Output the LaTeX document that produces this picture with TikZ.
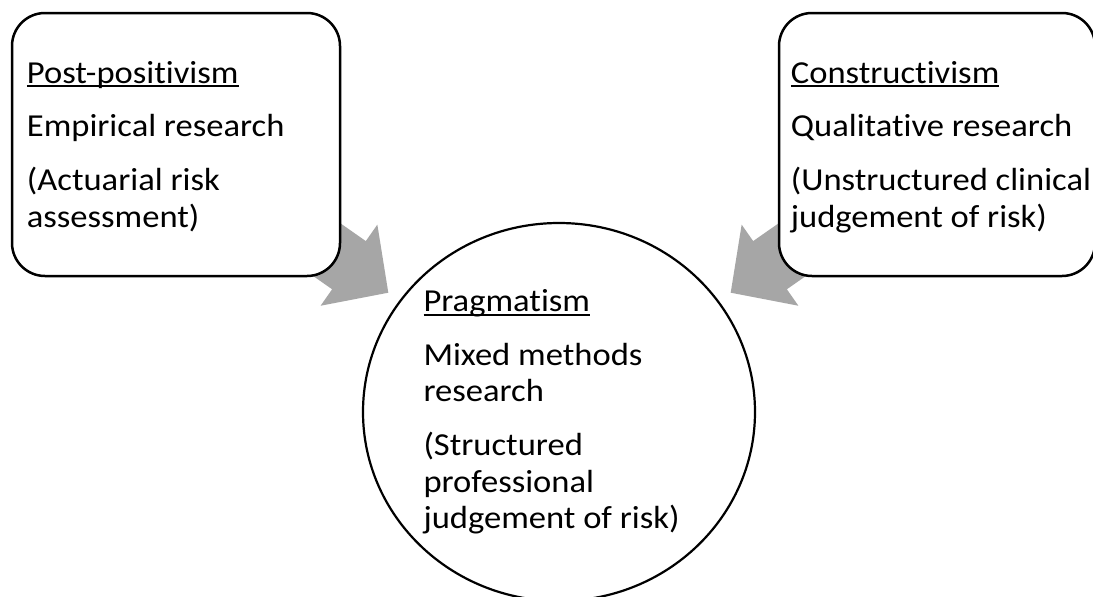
\documentclass[tikz,border=0pt]{standalone}
\usepackage{fontspec}
\setmainfont{Carlito}[Ligatures=NoCommon, FakeStretch=1.08]
\usetikzlibrary{calc,shapes.geometric}
\definecolor{arrowfill}{RGB}{166,166,166}

% underline that runs through the descenders
\newcommand\myul[1]{\setbox0\hbox{#1}\rlap{\rule[-4pt]{\wd0}{2pt}}\box0}

% wide block arrow from #1 (start, hidden under a box) to #2 (tip)
\newcommand\blockarrow[2]{%
  \coordinate (#1-h) at ($(#2)!48pt!(#1)$);
  \fill[arrowfill]
    ($(#1)!29.4pt!90:(#2)$) -- ($(#1-h)!29.4pt!90:(#2)$) --
    ($(#1-h)!49.5pt!90:(#2)$) -- (#2) --
    ($(#1-h)!49.5pt!-90:(#2)$) -- ($(#1-h)!29.4pt!-90:(#2)$) --
    ($(#1)!29.4pt!-90:(#2)$) -- cycle;
}

\tikzset{
  framebox/.style={draw=black, line width=2.5pt, rounded corners=33pt,
    fill=white, inner sep=0pt},
  roundnode/.style={ellipse, draw=black, line width=2.2pt, fill=white,
    inner sep=0pt},
  txt/.style={anchor=base west, inner sep=0pt,
    font=\fontsize{32}{36.7}\selectfont},
}

\begin{document}
\begin{tikzpicture}[x=1pt,y=-1pt]
  \fill[white] (0,0) rectangle (1093,597);
  \useasboundingbox (0,0) rectangle (1093,597);

  % arrow ends
  \coordinate (ls) at (265.4,206.7);
  \coordinate (lt) at (388.3,292.7);
  \coordinate (rs) at (853.6,206.7);
  \coordinate (rt) at (730.7,292.7);
  \blockarrow{ls}{lt}
  \blockarrow{rs}{rt}

  % frames
  \node[framebox, minimum width=328pt, minimum height=263pt] (post) at (176,144.5) {};
  \node[framebox, minimum width=316pt, minimum height=263pt] (cons) at (937,144.5) {};
  \node[roundnode, minimum width=392pt, minimum height=378pt] (prag) at (559,412) {};

  % texts
  \node[txt] (posttxt) at (26.7,83.3) {\begin{tabular}[t]{@{}l@{}}
    \myul{Post-positivism}\\[16.8pt]
    Empirical research\\[16.8pt]
    (Actuarial risk\\
    assessment)
  \end{tabular}};
  \node[txt] (constxt) at (790.7,83.3) {\begin{tabular}[t]{@{}l@{}}
    \myul{Constructivism}\\[16.8pt]
    Qualitative research\\[16.8pt]
    (Unstructured clinical\\
    judgement of risk)
  \end{tabular}};
  \node[txt] (pragtxt) at (423.3,311.7) {\begin{tabular}[t]{@{}l@{}}
    \myul{Pragmatism}\\[16.8pt]
    Mixed methods\\
    research\\[16.8pt]
    (Structured\\
    professional\\
    judgement of risk)
  \end{tabular}};
\end{tikzpicture}
\end{document}
